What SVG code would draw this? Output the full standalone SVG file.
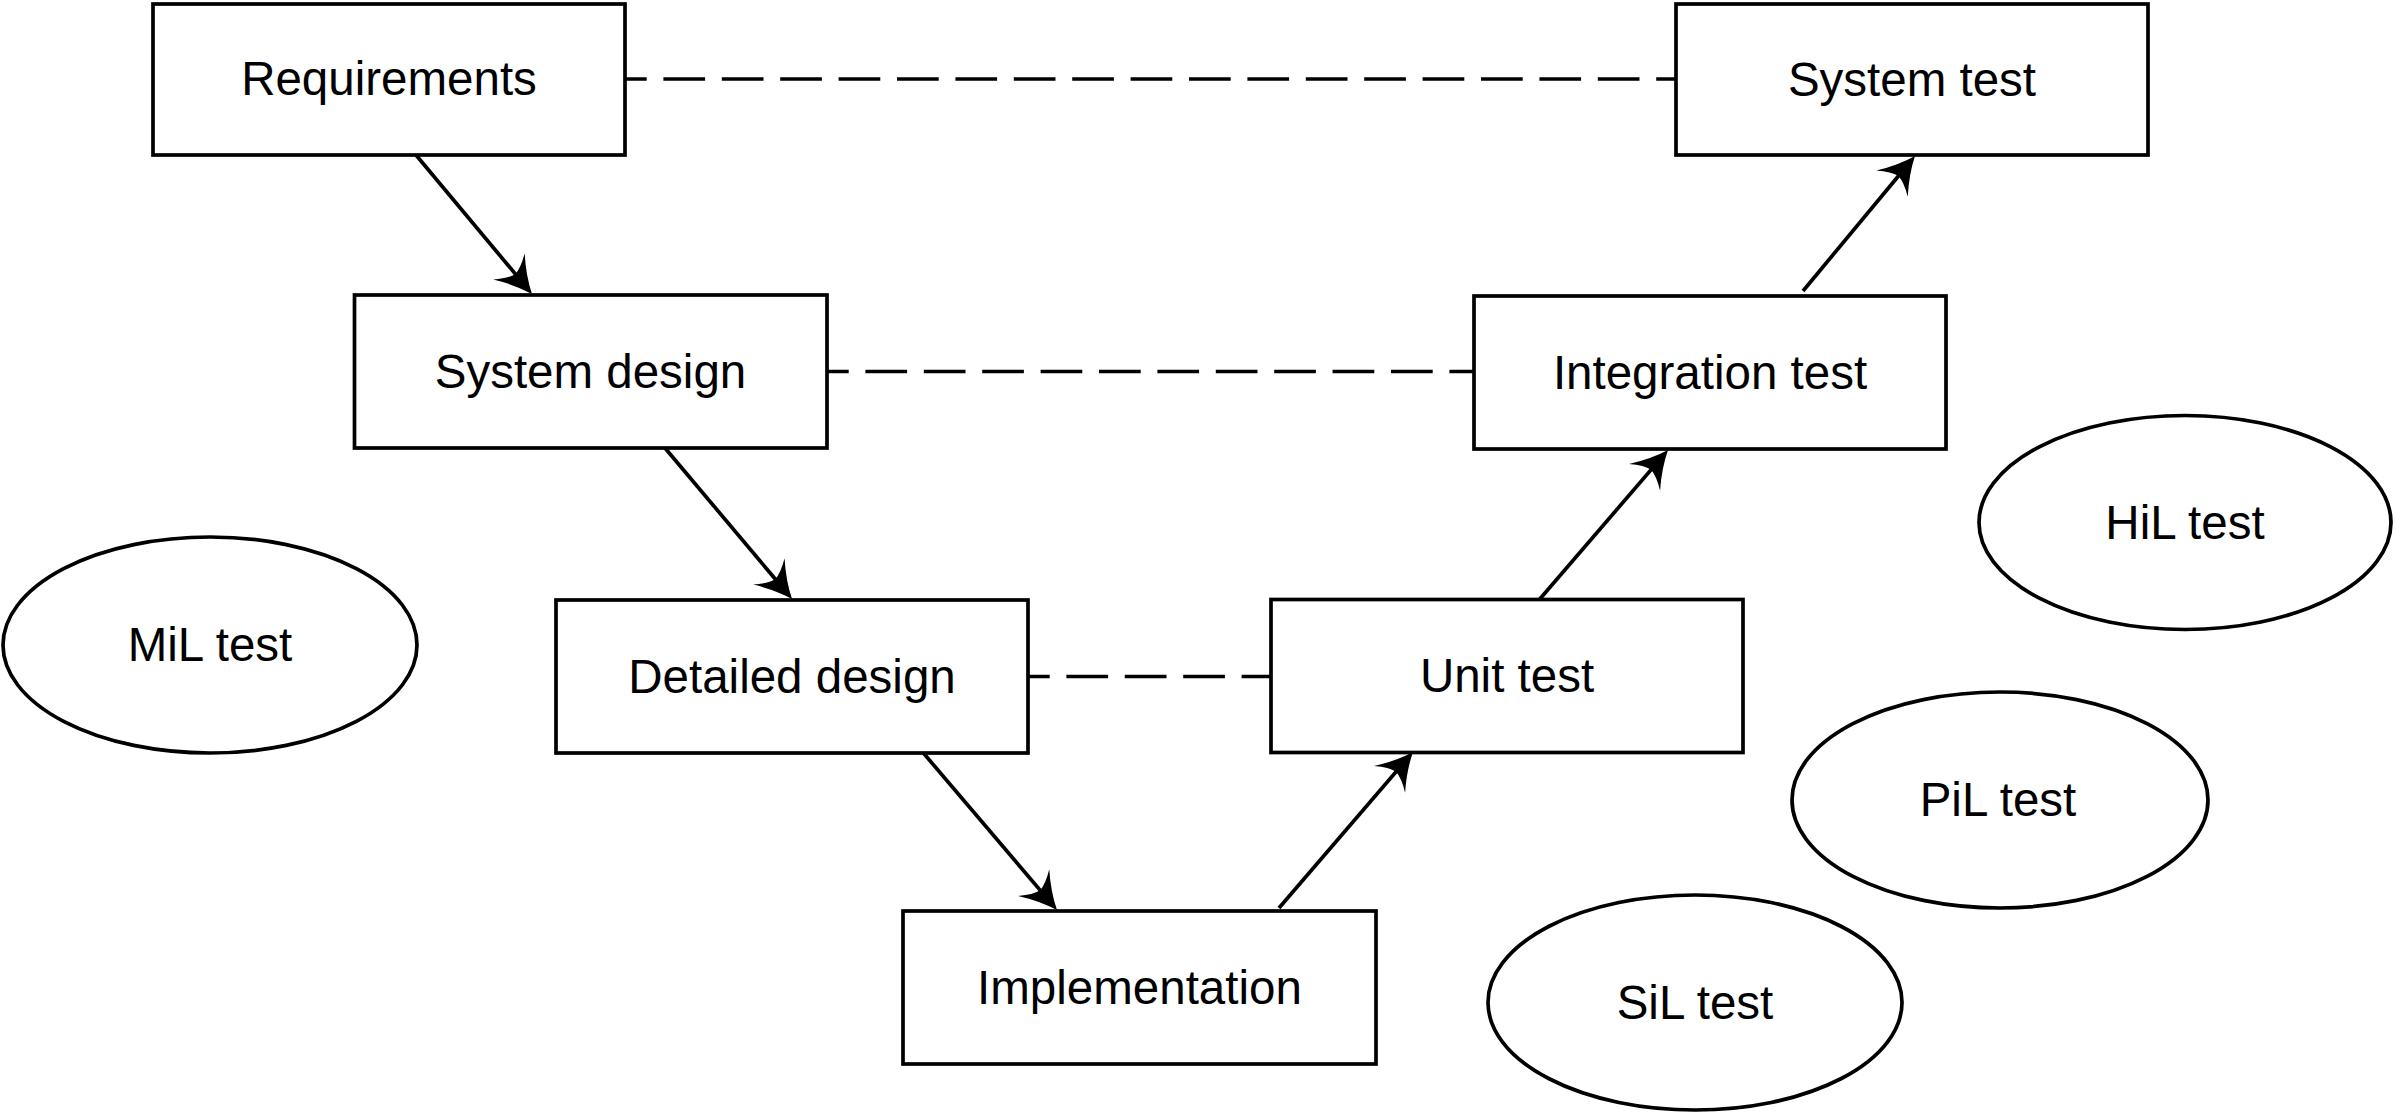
<svg xmlns="http://www.w3.org/2000/svg" width="2396" height="1115" viewBox="0 0 2396 1115">
<style>
.box{fill:#fff;stroke:#000;stroke-width:3.7}
.ell{fill:#fff;stroke:#000;stroke-width:3.7}
.lbl{font-family:"Liberation Sans",Arial,sans-serif;font-size:47.5px;fill:#000;text-anchor:middle}
.arr{stroke:#000;stroke-width:3.7;fill:none;marker-end:url(#ah)}
.dash{stroke:#000;stroke-width:3.7;fill:none;stroke-dasharray:41.7 16.7;stroke-dashoffset:20}
</style>
<defs>
<marker id="ah" markerUnits="userSpaceOnUse" viewBox="-42 -25 47 50" markerWidth="47" markerHeight="50" refX="-10" refY="0" orient="auto">
<path d="M0,0 Q-18,-7 -36,-20.5 Q-27,-8 -26,0 Q-27,8 -36,20.5 Q-18,7 0,0 Z" fill="#000"/>
</marker>
</defs>
<rect width="2396" height="1115" fill="#fff"/>
<g id="connectors">
<line class="dash" x1="625" y1="79" x2="1676" y2="79"/>
<line class="dash" x1="827" y1="371.5" x2="1474" y2="371.5"/>
<line class="dash" x1="1028" y1="676.5" x2="1271" y2="676.5"/>
<line class="arr" x1="416" y1="155" x2="525.6" y2="286.3"/>
<line class="arr" x1="665" y1="448" x2="785.6" y2="591.3"/>
<line class="arr" x1="920" y1="749" x2="1050.5" y2="902.4"/>
<line class="arr" x1="1279" y1="908" x2="1406.5" y2="759.6"/>
<line class="arr" x1="1539" y1="600" x2="1661.5" y2="457.6"/>
<line class="arr" x1="1803" y1="291" x2="1908.6" y2="163.7"/>
</g>
<g id="requirements"><rect class="box" x="153" y="4" width="472" height="151"/><text class="lbl" x="389" y="95">Requirements</text></g>
<g id="system-design"><rect class="box" x="354.5" y="295" width="472.5" height="153"/><text class="lbl" x="590.5" y="387.5">System design</text></g>
<g id="detailed-design"><rect class="box" x="556" y="600" width="472" height="153"/><text class="lbl" x="792" y="692.5">Detailed design</text></g>
<g id="implementation"><rect class="box" x="903" y="911" width="473" height="153"/><text class="lbl" x="1139.5" y="1003.5">Implementation</text></g>
<g id="unit-test"><rect class="box" x="1271" y="599.5" width="472" height="153"/><text class="lbl" x="1507" y="692">Unit test</text></g>
<g id="integration-test"><rect class="box" x="1474" y="296" width="472" height="153"/><text class="lbl" x="1710" y="388.5">Integration test</text></g>
<g id="system-test"><rect class="box" x="1676" y="4" width="472" height="151"/><text class="lbl" x="1912" y="95.5">System test</text></g>
<g id="mil-test"><ellipse class="ell" cx="210" cy="645" rx="207" ry="108"/><text class="lbl" x="210" y="661">MiL test</text></g>
<g id="hil-test"><ellipse class="ell" cx="2185" cy="522.5" rx="206" ry="107"/><text class="lbl" x="2185" y="538.5">HiL test</text></g>
<g id="pil-test"><ellipse class="ell" cx="2000" cy="800" rx="208" ry="108"/><text class="lbl" x="1998" y="816">PiL test</text></g>
<g id="sil-test"><ellipse class="ell" cx="1695" cy="1002.5" rx="207" ry="107.5"/><text class="lbl" x="1695" y="1019">SiL test</text></g>
</svg>
